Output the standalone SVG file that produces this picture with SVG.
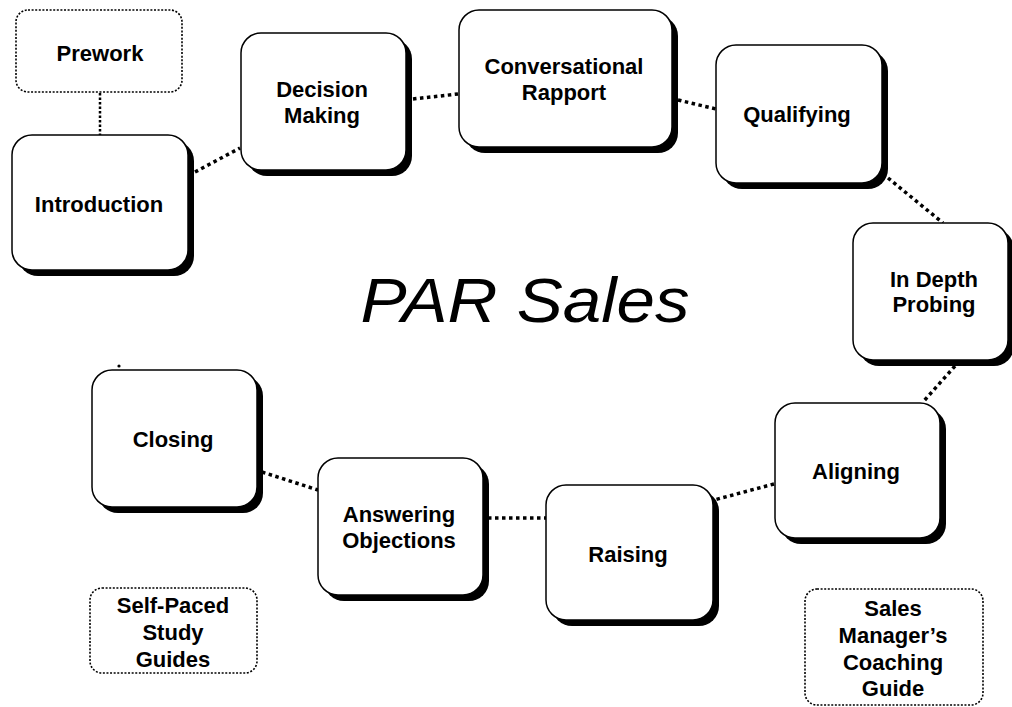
<svg xmlns="http://www.w3.org/2000/svg" width="1012" height="707" viewBox="0 0 1012 707">
  <style>
    .shadow { fill: #000; }
    .box { fill: #fff; stroke: #000; stroke-width: 1.5; }
    .note { fill: #fff; stroke: #000; stroke-width: 1.6; stroke-dasharray: 2 1.6; }
    .lbl { font-family: "Liberation Sans", Arial, sans-serif; font-weight: bold; font-size: 22px; text-anchor: middle; fill: #000; }
    .title { font-family: "Liberation Sans", Arial, sans-serif; font-style: italic; font-size: 63px; text-anchor: middle; fill: #000; }
    .link { fill: none; stroke: #000; stroke-width: 3.5; stroke-dasharray: 3.5 3.5; }
    .thin { fill: none; stroke: #000; stroke-width: 2.5; stroke-dasharray: 2.5 2; }
  </style>

  <!-- connectors -->
  <g id="connectors">
    <line class="thin" x1="100" y1="93" x2="100" y2="135"/>
    <line class="link" x1="195" y1="172" x2="240" y2="148"/>
    <line class="link" x1="413" y1="99" x2="458" y2="94"/>
    <line class="link" x1="678" y1="100" x2="716" y2="109"/>
    <line class="link" x1="888" y1="178" x2="943" y2="223"/>
    <line class="link" x1="955" y1="366" x2="923" y2="402"/>
    <line class="link" x1="774" y1="484" x2="714" y2="500"/>
    <line class="link" x1="488" y1="518" x2="546" y2="518"/>
    <line class="link" x1="262" y1="472" x2="318" y2="490"/>
    <circle cx="119" cy="366" r="1.6" fill="#000"/>
  </g>

  <!-- title -->
  <text class="title" x="525" y="322" textLength="329" lengthAdjust="spacingAndGlyphs">PAR Sales</text>

  <g id="prework">
    <rect class="note" x="16" y="10" width="166" height="82" rx="12"/>
    <text class="lbl" x="100" y="61">Prework</text>
  </g>

  <g id="introduction">
    <rect class="shadow" x="18" y="141" width="176" height="135" rx="20"/>
    <rect class="box" x="12" y="135" width="176" height="135" rx="20"/>
    <text class="lbl" x="99" y="212">Introduction</text>
  </g>

  <g id="decision-making">
    <rect class="shadow" x="247" y="39" width="165" height="137" rx="20"/>
    <rect class="box" x="241" y="33" width="165" height="137" rx="20"/>
    <text class="lbl" x="322" y="97">Decision</text>
    <text class="lbl" x="322" y="123">Making</text>
  </g>

  <g id="conversational-rapport">
    <rect class="shadow" x="465" y="16" width="213" height="137" rx="20"/>
    <rect class="box" x="459" y="10" width="213" height="137" rx="20"/>
    <text class="lbl" x="564" y="74">Conversational</text>
    <text class="lbl" x="564" y="100">Rapport</text>
  </g>

  <g id="qualifying">
    <rect class="shadow" x="722" y="51" width="166" height="138" rx="20"/>
    <rect class="box" x="716" y="45" width="166" height="138" rx="20"/>
    <text class="lbl" x="797" y="122">Qualifying</text>
  </g>

  <g id="in-depth-probing">
    <rect class="shadow" x="859" y="229" width="155" height="137" rx="20"/>
    <rect class="box" x="853" y="223" width="155" height="137" rx="20"/>
    <text class="lbl" x="934" y="287">In Depth</text>
    <text class="lbl" x="934" y="312">Probing</text>
  </g>

  <g id="aligning">
    <rect class="shadow" x="781" y="409" width="165" height="135" rx="20"/>
    <rect class="box" x="775" y="403" width="165" height="135" rx="20"/>
    <text class="lbl" x="856" y="479">Aligning</text>
  </g>

  <g id="raising">
    <rect class="shadow" x="552" y="491" width="167" height="135" rx="20"/>
    <rect class="box" x="546" y="485" width="167" height="135" rx="20"/>
    <text class="lbl" x="628" y="562">Raising</text>
  </g>

  <g id="answering-objections">
    <rect class="shadow" x="324" y="464" width="165" height="137" rx="20"/>
    <rect class="box" x="318" y="458" width="165" height="137" rx="20"/>
    <text class="lbl" x="399" y="522">Answering</text>
    <text class="lbl" x="399" y="548">Objections</text>
  </g>

  <g id="closing">
    <rect class="shadow" x="98" y="376" width="165" height="137" rx="20"/>
    <rect class="box" x="92" y="370" width="165" height="137" rx="20"/>
    <text class="lbl" x="173" y="447">Closing</text>
  </g>

  <g id="self-paced-study-guides">
    <rect class="note" x="90" y="588" width="167" height="85" rx="12"/>
    <text class="lbl" x="173" y="613">Self-Paced</text>
    <text class="lbl" x="173" y="640">Study</text>
    <text class="lbl" x="173" y="667">Guides</text>
  </g>

  <g id="coaching-guide">
    <rect class="note" x="805" y="589" width="178" height="116" rx="12"/>
    <text class="lbl" x="893" y="616">Sales</text>
    <text class="lbl" x="893" y="643">Manager’s</text>
    <text class="lbl" x="893" y="670">Coaching</text>
    <text class="lbl" x="893" y="696">Guide</text>
  </g>
</svg>
